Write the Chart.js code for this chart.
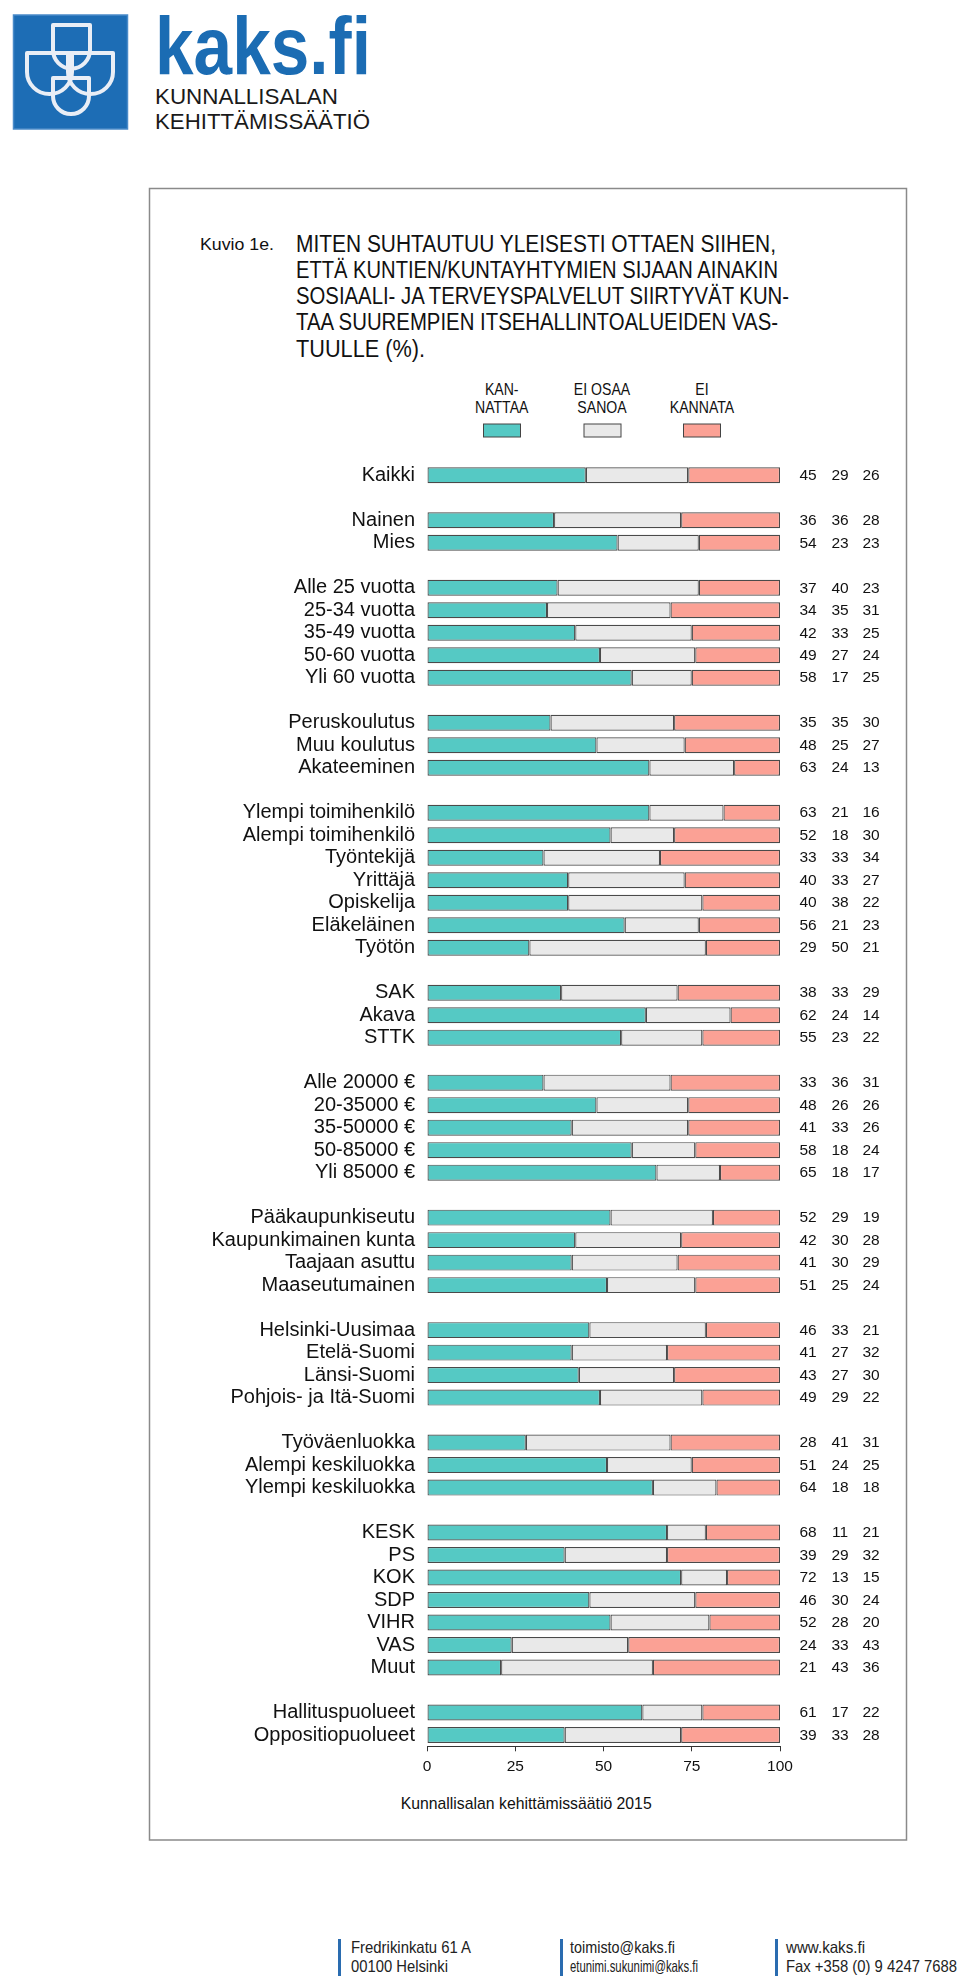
<!DOCTYPE html>
<html>
<head>
<meta charset="utf-8">
<script src="https://cdn.jsdelivr.net/npm/chart.js@4"></script>
<style>
  html, body { margin: 0; padding: 0; background: #fff; }
  body { width: 960px; height: 1986px; position: relative; overflow: hidden; font-family: "Liberation Sans", Arial, sans-serif; }
  #overlay { position: absolute; left: 0; top: 0; }
  #chartWrap { position: absolute; left: 150px; top: 440px; width: 756px; height: 1350px; }
</style>
</head>
<body>
<svg id="overlay" width="960" height="1986" xmlns="http://www.w3.org/2000/svg" font-family="Liberation Sans, Arial, sans-serif">
  <!-- logo -->
  <rect x="13.5" y="15" width="114" height="114" fill="#1d6db5" stroke="#4a8bc9" stroke-width="1.5"/>
  <g fill="none" stroke="#e9eef6" stroke-width="4" stroke-linejoin="round">
    <path d="M53,25 H90 V50 A18.5,18.5 0 0 1 53,50 Z"/>
    <path d="M27,53 H72 V72 A22.5,22 0 0 1 27,72 Z"/>
    <path d="M68,53 H113 V72 A22.5,22 0 0 1 68,72 Z"/>
    <path d="M53,78 H89 V96 A18,18 0 0 1 53,96 Z"/>
  </g>
  <text x="155" y="74" font-size="82" font-weight="bold" fill="#1b6cb3" textLength="216" lengthAdjust="spacingAndGlyphs">kaks.fi</text>
  <text x="155" y="103.5" font-size="22" fill="#1a1a1a" textLength="183" lengthAdjust="spacingAndGlyphs">KUNNALLISALAN</text>
  <text x="155" y="128.5" font-size="22" fill="#1a1a1a" textLength="215" lengthAdjust="spacingAndGlyphs">KEHITTÄMISSÄÄTIÖ</text>

  <!-- frame -->
  <rect x="149.5" y="188.5" width="757" height="1651.5" fill="none" stroke="#8a8a8a" stroke-width="1.5"/>

  <!-- title -->
  <text x="200" y="250" font-size="17" fill="#111" textLength="74" lengthAdjust="spacingAndGlyphs">Kuvio 1e.</text>
  <g font-size="23.5" fill="#111">
    <text x="296" y="251.7" textLength="480" lengthAdjust="spacingAndGlyphs">MITEN SUHTAUTUU YLEISESTI OTTAEN SIIHEN,</text>
    <text x="296" y="277.9" textLength="482" lengthAdjust="spacingAndGlyphs">ETTÄ KUNTIEN/KUNTAYHTYMIEN SIJAAN AINAKIN</text>
    <text x="296" y="304.1" textLength="493" lengthAdjust="spacingAndGlyphs">SOSIAALI- JA TERVEYSPALVELUT SIIRTYVÄT KUN-</text>
    <text x="296" y="330.3" textLength="482" lengthAdjust="spacingAndGlyphs">TAA SUUREMPIEN ITSEHALLINTOALUEIDEN VAS-</text>
    <text x="296" y="356.5" textLength="129" lengthAdjust="spacingAndGlyphs">TUULLE (%).</text>
  </g>

  <!-- legend -->
  <g font-size="16" fill="#111" text-anchor="middle">
    <g transform="translate(501.7,0) scale(0.88,1)">
      <text x="0" y="395">KAN-</text>
      <text x="0" y="412.7">NATTAA</text>
    </g>
    <g transform="translate(602,0) scale(0.88,1)">
      <text x="0" y="395">EI OSAA</text>
      <text x="0" y="412.7">SANOA</text>
    </g>
    <g transform="translate(702,0) scale(0.88,1)">
      <text x="0" y="395">EI</text>
      <text x="0" y="412.7">KANNATA</text>
    </g>
  </g>
  <rect x="483.5" y="424" width="37" height="13" fill="#55c9c4" stroke="#444" stroke-width="1"/>
  <rect x="584" y="424" width="37" height="13" fill="#e9e9e9" stroke="#444" stroke-width="1"/>
  <rect x="683.5" y="424" width="37" height="13" fill="#fba195" stroke="#444" stroke-width="1"/>

  <!-- source -->
  <text x="400.7" y="1809.3" font-size="17" fill="#111" textLength="251" lengthAdjust="spacingAndGlyphs">Kunnallisalan kehittämissäätiö 2015</text>

  <!-- footer -->
  <g fill="#2a6cb0">
    <rect x="338" y="1939" width="3" height="37"/>
    <rect x="560" y="1939" width="3" height="37"/>
    <rect x="775" y="1939" width="3" height="37"/>
  </g>
  <g font-size="16.5" fill="#222" lengthAdjust="spacingAndGlyphs">
    <text x="351" y="1953" textLength="120" lengthAdjust="spacingAndGlyphs">Fredrikinkatu 61 A</text>
    <text x="351" y="1972" textLength="97" lengthAdjust="spacingAndGlyphs">00100 Helsinki</text>
    <text x="570" y="1953" textLength="105" lengthAdjust="spacingAndGlyphs">toimisto@kaks.fi</text>
    <text x="570" y="1972" textLength="128" lengthAdjust="spacingAndGlyphs">etunimi.sukunimi@kaks.fi</text>
    <text x="786" y="1953" textLength="79" lengthAdjust="spacingAndGlyphs">www.kaks.fi</text>
    <text x="786" y="1972" textLength="171" lengthAdjust="spacingAndGlyphs">Fax +358 (0) 9 4247 7688</text>
  </g>
</svg>

<div id="chartWrap"><canvas id="c"></canvas></div>

<script>
// ---- data ----
const categories = [
  'Kaikki', '',
  'Nainen', 'Mies', '',
  'Alle 25 vuotta', '25-34 vuotta', '35-49 vuotta', '50-60 vuotta', 'Yli 60 vuotta', '',
  'Peruskoulutus', 'Muu koulutus', 'Akateeminen', '',
  'Ylempi toimihenkilö', 'Alempi toimihenkilö', 'Työntekijä', 'Yrittäjä', 'Opiskelija', 'Eläkeläinen', 'Työtön', '',
  'SAK', 'Akava', 'STTK', '',
  'Alle 20000 €', '20-35000 €', '35-50000 €', '50-85000 €', 'Yli 85000 €', '',
  'Pääkaupunkiseutu', 'Kaupunkimainen kunta', 'Taajaan asuttu', 'Maaseutumainen', '',
  'Helsinki-Uusimaa', 'Etelä-Suomi', 'Länsi-Suomi', 'Pohjois- ja Itä-Suomi', '',
  'Työväenluokka', 'Alempi keskiluokka', 'Ylempi keskiluokka', '',
  'KESK', 'PS', 'KOK', 'SDP', 'VIHR', 'VAS', 'Muut', '',
  'Hallituspuolueet', 'Oppositiopuolueet'
];
const kannattaa = [
  45, null,
  36, 54, null,
  37, 34, 42, 49, 58, null,
  35, 48, 63, null,
  63, 52, 33, 40, 40, 56, 29, null,
  38, 62, 55, null,
  33, 48, 41, 58, 65, null,
  52, 42, 41, 51, null,
  46, 41, 43, 49, null,
  28, 51, 64, null,
  68, 39, 72, 46, 52, 24, 21, null,
  61, 39
];
const eiOsaaSanoa = [
  29, null,
  36, 23, null,
  40, 35, 33, 27, 17, null,
  35, 25, 24, null,
  21, 18, 33, 33, 38, 21, 50, null,
  33, 24, 23, null,
  36, 26, 33, 18, 18, null,
  29, 30, 30, 25, null,
  33, 27, 27, 29, null,
  41, 24, 18, null,
  11, 29, 13, 30, 28, 33, 43, null,
  17, 33
];
const eiKannata = [
  26, null,
  28, 23, null,
  23, 31, 25, 24, 25, null,
  30, 27, 13, null,
  16, 30, 34, 27, 22, 23, 21, null,
  29, 14, 22, null,
  31, 26, 26, 24, 17, null,
  19, 28, 29, 24, null,
  21, 32, 30, 22, null,
  31, 25, 18, null,
  21, 32, 15, 24, 20, 43, 36, null,
  22, 28
];
const xTicks = [0, 25, 50, 75, 100];
const seriesNames = ['KANNATTAA', 'EI OSAA SANOA', 'EI KANNATA'];
const seriesColors = ['#55c9c4', '#e9e9e9', '#fba195'];

const FONT = '"Liberation Sans", Arial, sans-serif';

const valueLabels = {
  id: 'valueLabels',
  afterDatasetsDraw(chart) {
    const { ctx, chartArea, scales } = chart;
    const offsets = [28, 60, 91];
    ctx.save();
    ctx.font = '15.5px ' + FONT;
    ctx.fillStyle = '#111';
    ctx.textAlign = 'center';
    ctx.textBaseline = 'middle';
    chart.data.datasets.forEach((ds, di) => {
      ds.data.forEach((v, i) => {
        if (v === null || v === undefined) return;
        const y = scales.y.getPixelForValue(i);
        ctx.fillText(String(v), chartArea.right + offsets[di], y + 0.5);
      });
    });
    ctx.restore();
  }
};

new Chart(document.getElementById('c'), {
  type: 'bar',
  data: {
    labels: categories,
    datasets: [kannattaa, eiOsaaSanoa, eiKannata].map((d, i) => ({
      label: seriesNames[i],
      data: d,
      backgroundColor: seriesColors[i],
      borderColor: '#4a4a4a',
      borderWidth: 1.2,
      borderSkipped: false,
      barPercentage: 0.71,
      categoryPercentage: 1.0
    }))
  },
  options: {
    indexAxis: 'y',
    responsive: true,
    maintainAspectRatio: false,
    animation: false,
    layout: { padding: { top: 21.7, right: 126, bottom: 3.7, left: 0 } },
    plugins: { legend: { display: false }, tooltip: { enabled: false } },
    scales: {
      x: {
        stacked: true,
        min: 0, max: 100,
        afterBuildTicks(scale) { scale.ticks = xTicks.map(v => ({ value: v })); },
        afterFit(scale) { scale.height = 40; },
        grid: { display: true, drawOnChartArea: false, drawTicks: true, tickLength: 5, color: '#333', tickColor: '#333' },
        border: { display: true, color: '#333', width: 1 },
        ticks: { font: { family: FONT, size: 15.5 }, color: '#111', padding: 6, maxRotation: 0 }
      },
      y: {
        stacked: true,
        afterFit(scale) { scale.width = 277; },
        grid: { display: false, drawTicks: false },
        border: { display: false },
        ticks: { autoSkip: false, font: { family: FONT, size: 20 }, color: '#111', padding: 12 }
      }
    }
  },
  plugins: [valueLabels]
});
</script>
</body>
</html>
